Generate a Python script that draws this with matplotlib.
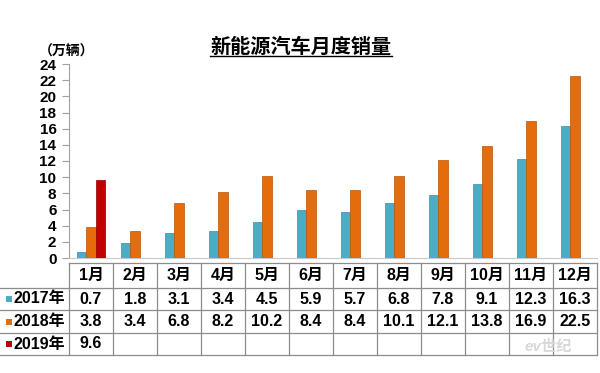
import matplotlib
matplotlib.use("Agg")
import matplotlib.pyplot as plt
import matplotlib.transforms as mtransforms
from matplotlib.lines import Line2D
from matplotlib.patches import Rectangle

plt.rcParams['font.family'] = ['Liberation Sans', 'Noto Sans CJK SC', 'DejaVu Sans']

months = ["1月", "2月", "3月", "4月", "5月", "6月", "7月", "8月", "9月", "10月", "11月", "12月"]
series_names = ["2017年", "2018年", "2019年"]
sales_2017 = [0.7, 1.8, 3.1, 3.4, 4.5, 5.9, 5.7, 6.8, 7.8, 9.1, 12.3, 16.3]
sales_2018 = [3.8, 3.4, 6.8, 8.2, 10.2, 8.4, 8.4, 10.1, 12.1, 13.8, 16.9, 22.5]
sales_2019 = [9.6]
colors = ["#4BACC6", "#E46C0A", "#C00000"]
edges = ["#3B8CA6", "#B8560A", "#900000"]
yticks = list(range(0, 25, 2))

W, H = 600, 373
fig = plt.figure(figsize=(6.0, 3.73), dpi=100)
fig.patch.set_facecolor("white")

def fx(px):
    return px / W

def fy(py):
    return (H - py) / H

ax = fig.add_axes([fx(69), fy(258), fx(597) - fx(69), fy(64) - fy(258)])
ax.set_xlim(-0.5, len(months) - 0.5)
ax.set_ylim(0, 24)

series = [sales_2017, sales_2018, sales_2019]
step = 0.215
bw = 0.205
for i, vals in enumerate(series):
    xs = [k + (i - 1) * step for k in range(len(vals))]
    ax.bar(xs, vals, width=bw, color=colors[i], edgecolor=edges[i], linewidth=0.5, zorder=3)

ax.set_yticks(yticks)
ax.set_yticklabels([str(t) for t in yticks], fontsize=11, fontweight="bold")
ax.tick_params(axis="y", direction="out", length=5, width=0.8, color="#A0A0A0", pad=4)
ax.set_xticks([])
for s in ["top", "right"]:
    ax.spines[s].set_visible(False)
ax.spines["left"].set_color("#A0A0A0")
ax.spines["bottom"].set_color("#C8C8C8")
ax.spines["left"].set_linewidth(0.8)
ax.spines["bottom"].set_linewidth(0.8)

# Unit label
fig.text(fx(39), fy(52), "（万辆）", fontsize=10, fontweight="bold", ha="left", va="center",
         color="black")

# Title with underline
title = fig.text(fx(301), fy(47), "新能源汽车月度销量", fontsize=14.5, fontweight="bold",
                 ha="center", va="center", color="black")

# Table
trans = mtransforms.blended_transform_factory(ax.transData, fig.transFigure)
rows_y = [263, 288, 310, 333, 355]
lc = "#8C8C8C"
lw = 0.9
n = len(months)
fig.add_artist(Line2D([-0.5, n - 0.5], [fy(rows_y[0])] * 2, transform=trans, color=lc, lw=lw))
for ry in rows_y[1:]:
    fig.add_artist(Line2D([fx(0), fx(597)], [fy(ry)] * 2, transform=fig.transFigure, color=lc, lw=lw))
for k in range(n + 1):
    fig.add_artist(Line2D([k - 0.5, k - 0.5], [fy(rows_y[0]), fy(rows_y[-1])], transform=trans,
                          color=lc, lw=lw))

fs = 11.5
for k, m in enumerate(months):
    fig.text(k, fy((rows_y[0] + rows_y[1]) / 2), m, transform=trans, ha="center", va="center",
             fontsize=fs, fontweight="bold")
for i, vals in enumerate(series):
    yc = fy((rows_y[i + 1] + rows_y[i + 2]) / 2)
    fig.add_artist(Rectangle((fx(6), yc - 3 / H), 6 / W, 6 / H, transform=fig.transFigure,
                             facecolor=colors[i], edgecolor="none"))
    fig.text(fx(14), yc, series_names[i], ha="left", va="center", fontsize=fs, fontweight="bold")
    for k, v in enumerate(vals):
        fig.text(k, yc, f"{v:.1f}", transform=trans, ha="center", va="center",
                 fontsize=fs, fontweight="bold")

# watermark
fig.text(fx(548), fy(347), "ev世纪", fontsize=11, fontweight="bold", style="italic",
         ha="center", va="center", color="#D8D8D8")

# underline under title
fig.canvas.draw()
bb = title.get_window_extent()
inv = fig.transFigure.inverted()
(x0, y0), (x1, y1) = inv.transform([(bb.x0, bb.y0), (bb.x1, bb.y1)])
fig.add_artist(Line2D([x0, x1], [y0 + 0.003, y0 + 0.003], transform=fig.transFigure, color="black", lw=1.0))

fig.savefig("out.png", dpi=100)
